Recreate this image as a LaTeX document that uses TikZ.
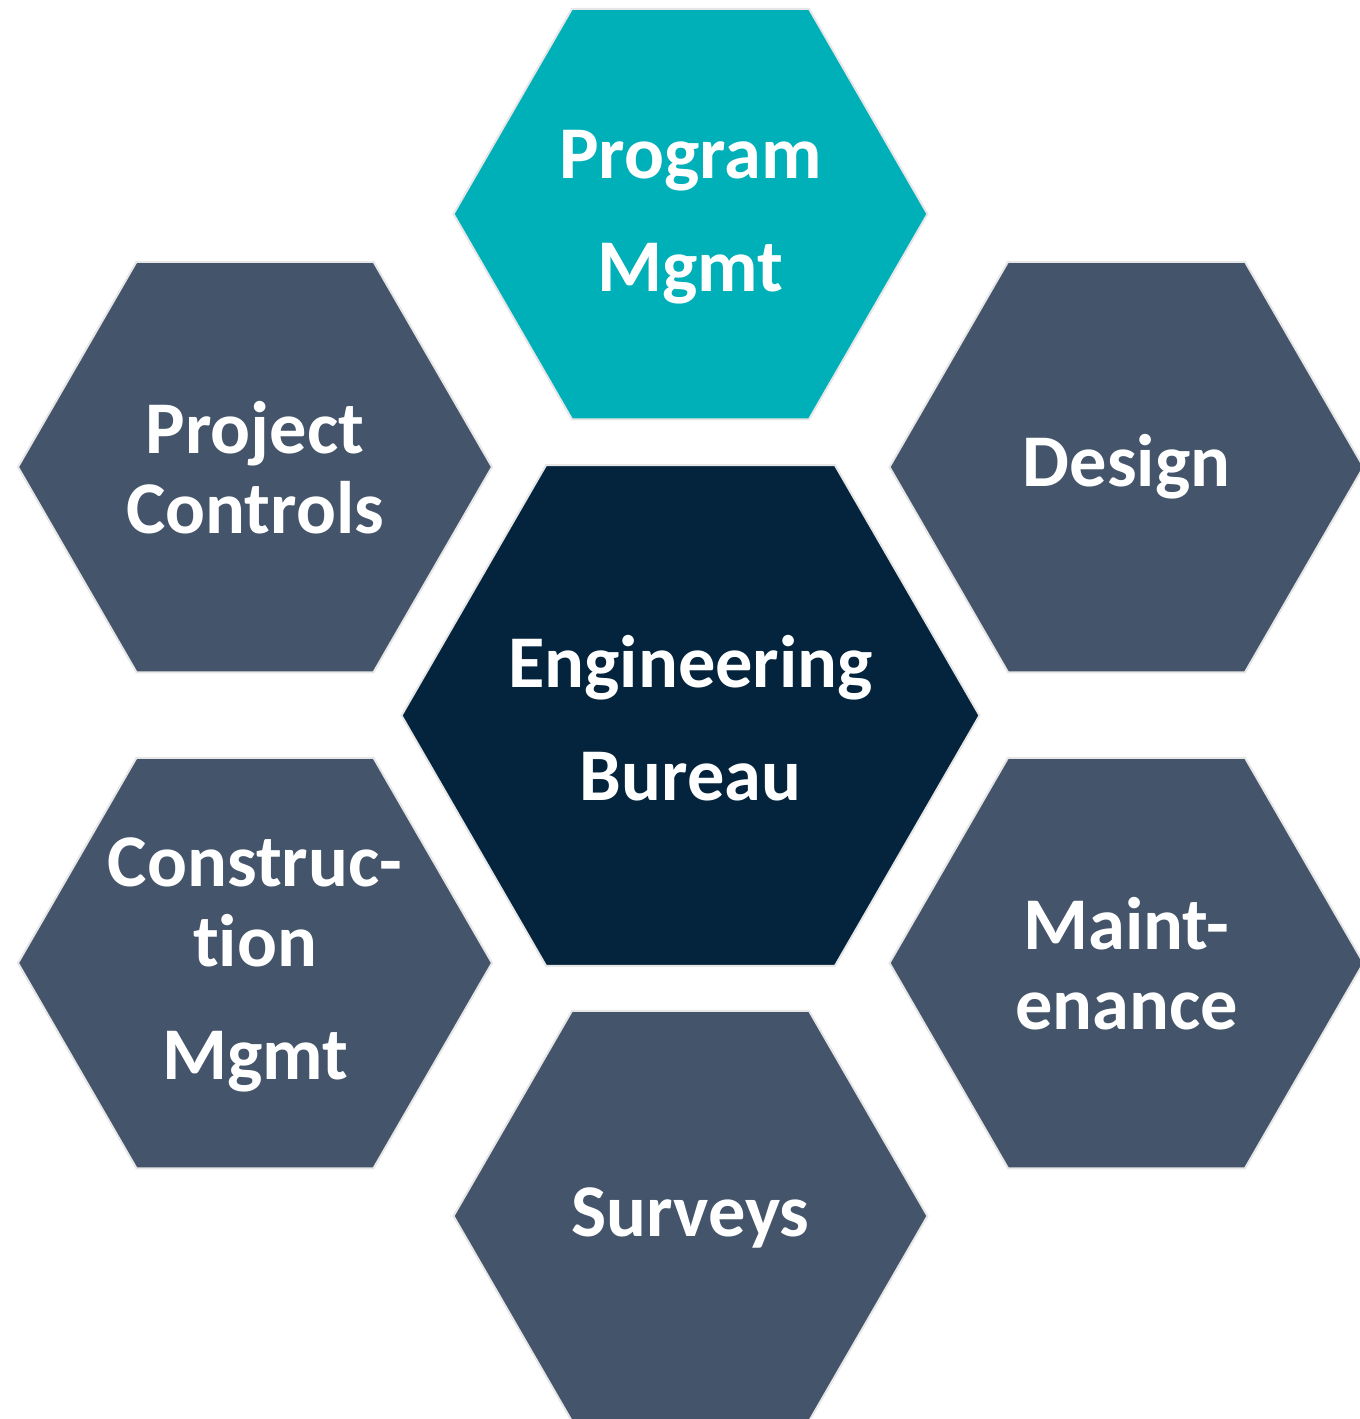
\documentclass[tikz,border=0pt]{standalone}
\usepackage{fontspec}
\setmainfont{Carlito}[Ligatures=NoCommon]
\usetikzlibrary{shapes.geometric,positioning}
\definecolor{hubnavy}{HTML}{03243C}
\definecolor{spokegrey}{HTML}{44546A}
\definecolor{progteal}{HTML}{00B0B9}
\definecolor{hexedge}{HTML}{E7E6E6}

\begin{document}
\begin{tikzpicture}[x=0.5pt,y=-0.5pt,on grid,
  hexa/.style={regular polygon,regular polygon sides=6,draw=hexedge,line width=1pt,
    inner sep=0pt,minimum size=237pt,fill=spokegrey},
  hub/.style={hexa,minimum size=289pt,fill=hubnavy},
  lbl/.style={text=white,align=center,font=\bfseries\fontsize{37.2}{40}\selectfont}]
  \useasboundingbox (0,0) rectangle (1360,1419);
  \node[hub] (eng) at (690.5,715.5) {};
  \node[hexa,fill=progteal] (prog) [above=250.75pt of eng] {};
  \node[hexa] (design) [above right=124.25pt and 218pt of eng] {};
  \node[hexa] (projctl) [above left=124.25pt and 217.75pt of eng] {};
  \node[hexa] (constr) [below left=123.75pt and 217.75pt of eng] {};
  \node[hexa] (maint) [below right=123.75pt and 218pt of eng] {};
  \node[hexa] (surveys) [below=250.25pt of eng] {};
  % labels
  \node[lbl] (eng-t) [below=1.5pt of eng] {Engineering\\[16.5pt]Bureau};
  \node[lbl] (prog-t) [below=1.5pt of prog] {Program\\[16.5pt]Mgmt};
  \node[lbl] (design-t) at (design) {Design};
  \node[lbl] (projctl-t) [below=0.5pt of projctl] {Project\\Controls};
  \node[lbl] (constr-t) [below=1pt of constr] {Construc-\\tion\\[16.5pt]Mgmt};
  \node[lbl] (maint-t) [below=0.5pt of maint] {Maint-\\enance};
  \node[lbl] (surveys-t) [below=1pt of surveys] {Surveys};
\end{tikzpicture}
\end{document}
